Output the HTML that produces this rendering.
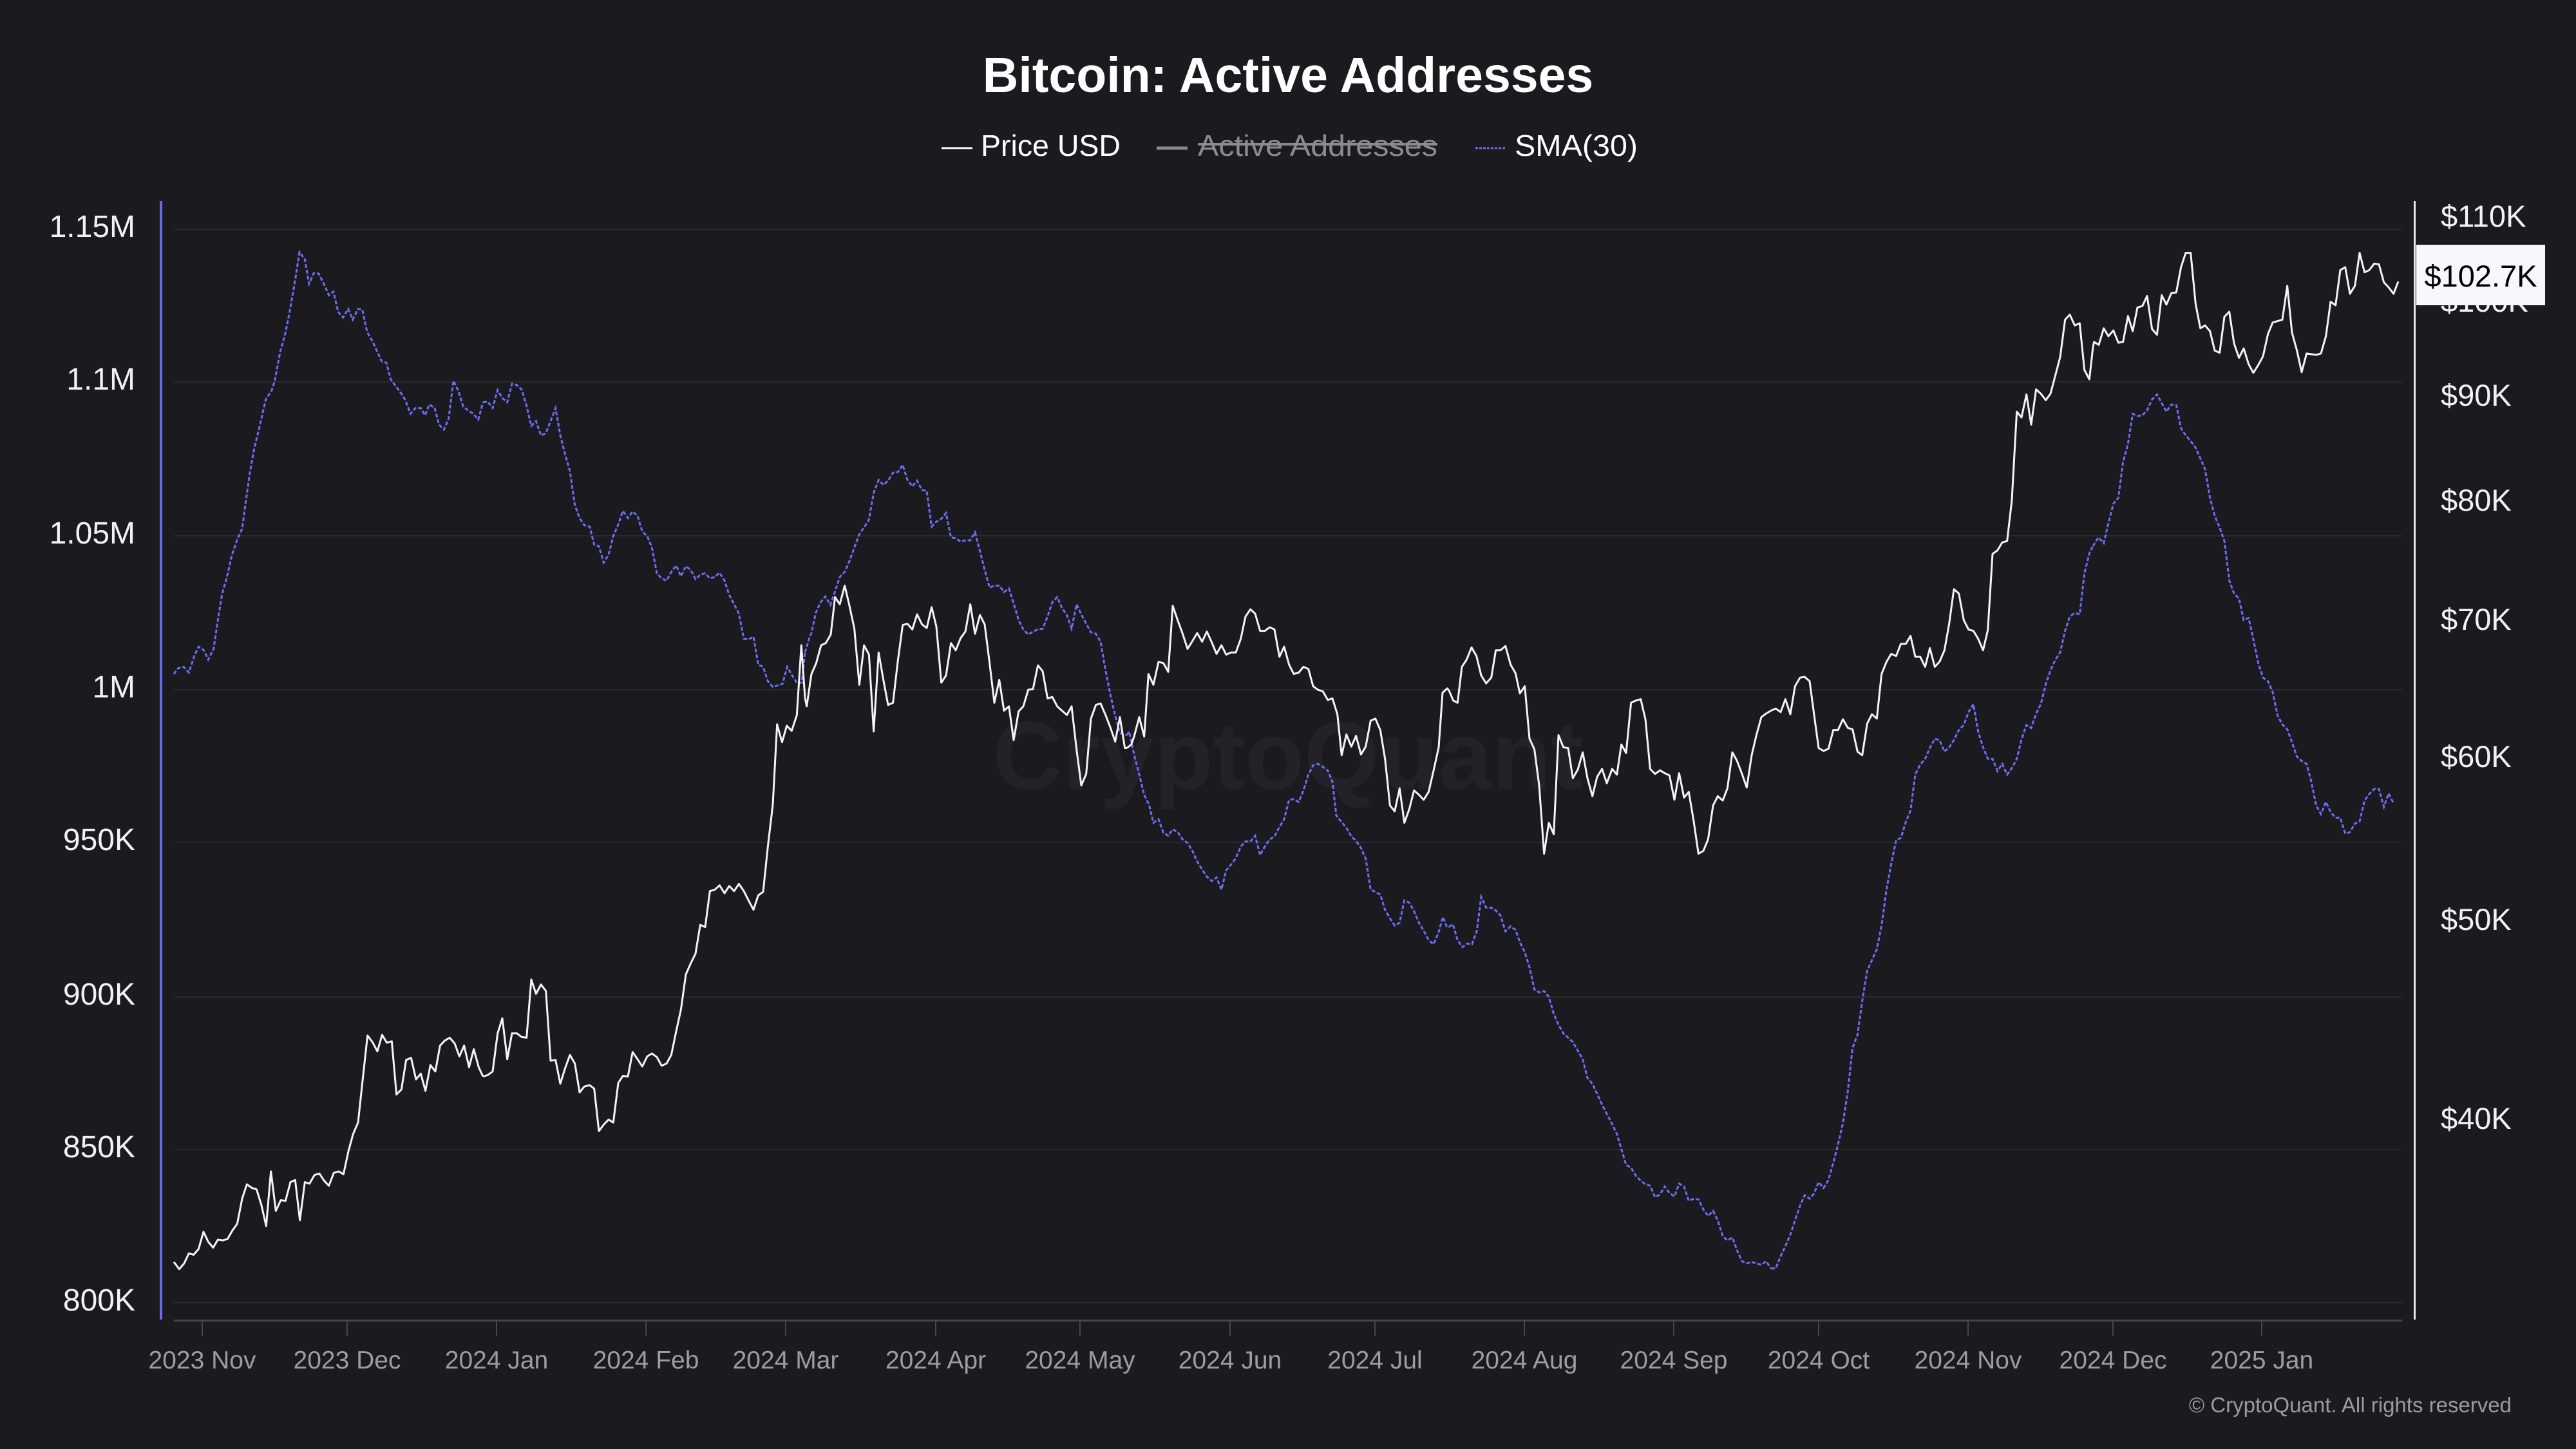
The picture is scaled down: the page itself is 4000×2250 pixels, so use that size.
<!DOCTYPE html>
<html>
<head>
<meta charset="utf-8">
<style>
html,body{margin:0;padding:0;background:#1a1a1f;}
svg{display:block;}
text{font-family:"Liberation Sans",sans-serif;}
.p{fill:none;stroke:#f4f4f8;stroke-width:3;vector-effect:non-scaling-stroke;stroke-linejoin:round;}
.s{fill:none;stroke:#6d6df2;stroke-width:3;stroke-dasharray:6 3;vector-effect:non-scaling-stroke;}
.yl{fill:#f2f2f5;font-size:48px;text-anchor:end;}
.yr{fill:#f2f2f5;font-size:47px;}
.xl{fill:#9c9ca8;font-size:39px;text-anchor:middle;}
.g{stroke:#29292f;stroke-width:2;}
.t{stroke:#46464e;stroke-width:2;}
</style>
</head>
<body>
<svg width="4000" height="2250" viewBox="0 0 4000 2250" xmlns="http://www.w3.org/2000/svg">
<rect x="0" y="0" width="4000" height="2250" fill="#1a1a1f"/>

<!-- Title -->
<text x="2000" y="143" text-anchor="middle" font-size="77" font-weight="bold" fill="#ffffff">Bitcoin: Active Addresses</text>

<!-- Legend -->
<line x1="1462" y1="230" x2="1510" y2="230" stroke="#ffffff" stroke-width="3"/>
<text x="1523" y="242" font-size="46" fill="#ffffff" textLength="217" lengthAdjust="spacingAndGlyphs">Price USD</text>
<line x1="1796" y1="230" x2="1844" y2="230" stroke="#8a8a94" stroke-width="5"/>
<text x="1860" y="242" font-size="46" fill="#8a8a94" textLength="372" lengthAdjust="spacingAndGlyphs">Active Addresses</text>
<rect x="1860" y="222" width="372" height="4" fill="#8a8a94"/>
<line x1="2291" y1="230" x2="2339" y2="230" stroke="#6d6df2" stroke-width="3" stroke-dasharray="4 2"/>
<text x="2352" y="242" font-size="46" fill="#ffffff" textLength="191" lengthAdjust="spacingAndGlyphs">SMA(30)</text>

<!-- Watermark -->
<text x="2000" y="1225" text-anchor="middle" font-size="150" font-weight="bold" fill="#222228">CryptoQuant</text>

<!-- Gridlines -->
<line class="g" x1="270" y1="356" x2="3730" y2="356"/>
<line class="g" x1="270" y1="593" x2="3730" y2="593"/>
<line class="g" x1="270" y1="832" x2="3730" y2="832"/>
<line class="g" x1="270" y1="1071" x2="3730" y2="1071"/>
<line class="g" x1="270" y1="1308" x2="3730" y2="1308"/>
<line class="g" x1="270" y1="1548" x2="3730" y2="1548"/>
<line class="g" x1="270" y1="1785" x2="3730" y2="1785"/>
<line class="g" x1="270" y1="2023" x2="3730" y2="2023"/>

<!-- Left axis -->
<rect x="248" y="312" width="4" height="1737" fill="#6a6af0"/>
<text class="yl" x="210" y="368">1.15M</text>
<text class="yl" x="210" y="605">1.1M</text>
<text class="yl" x="210" y="844">1.05M</text>
<text class="yl" x="210" y="1083">1M</text>
<text class="yl" x="210" y="1320">950K</text>
<text class="yl" x="210" y="1560">900K</text>
<text class="yl" x="210" y="1797">850K</text>
<text class="yl" x="210" y="2035">800K</text>

<!-- Right axis -->
<rect x="3748" y="312" width="3" height="1737" fill="#e8e8ee"/>
<text class="yr" x="3790" y="352">$110K</text>
<text class="yr" x="3790" y="484">$100K</text>
<text class="yr" x="3790" y="630">$90K</text>
<text class="yr" x="3790" y="793">$80K</text>
<text class="yr" x="3790" y="978">$70K</text>
<text class="yr" x="3790" y="1191">$60K</text>
<text class="yr" x="3790" y="1444">$50K</text>
<text class="yr" x="3790" y="1753">$40K</text>

<!-- Bottom axis -->
<rect x="270" y="2049" width="3460" height="3" fill="#46464e"/>
<line class="t" x1="314" y1="2051" x2="314" y2="2074"/>
<line class="t" x1="539" y1="2051" x2="539" y2="2074"/>
<line class="t" x1="771" y1="2051" x2="771" y2="2074"/>
<line class="t" x1="1003" y1="2051" x2="1003" y2="2074"/>
<line class="t" x1="1220" y1="2051" x2="1220" y2="2074"/>
<line class="t" x1="1453" y1="2051" x2="1453" y2="2074"/>
<line class="t" x1="1677" y1="2051" x2="1677" y2="2074"/>
<line class="t" x1="1910" y1="2051" x2="1910" y2="2074"/>
<line class="t" x1="2135" y1="2051" x2="2135" y2="2074"/>
<line class="t" x1="2367" y1="2051" x2="2367" y2="2074"/>
<line class="t" x1="2599" y1="2051" x2="2599" y2="2074"/>
<line class="t" x1="2824" y1="2051" x2="2824" y2="2074"/>
<line class="t" x1="3056" y1="2051" x2="3056" y2="2074"/>
<line class="t" x1="3281" y1="2051" x2="3281" y2="2074"/>
<line class="t" x1="3512" y1="2051" x2="3512" y2="2074"/>
<text class="xl" x="314" y="2125">2023 Nov</text>
<text class="xl" x="539" y="2125">2023 Dec</text>
<text class="xl" x="771" y="2125">2024 Jan</text>
<text class="xl" x="1003" y="2125">2024 Feb</text>
<text class="xl" x="1220" y="2125">2024 Mar</text>
<text class="xl" x="1453" y="2125">2024 Apr</text>
<text class="xl" x="1677" y="2125">2024 May</text>
<text class="xl" x="1910" y="2125">2024 Jun</text>
<text class="xl" x="2135" y="2125">2024 Jul</text>
<text class="xl" x="2367" y="2125">2024 Aug</text>
<text class="xl" x="2599" y="2125">2024 Sep</text>
<text class="xl" x="2824" y="2125">2024 Oct</text>
<text class="xl" x="3056" y="2125">2024 Nov</text>
<text class="xl" x="3281" y="2125">2024 Dec</text>
<text class="xl" x="3512" y="2125">2025 Jan</text>

<text x="3900" y="2193" text-anchor="end" font-size="33" fill="#9a9aa6">© CryptoQuant. All rights reserved</text>

<!-- Panel 1 -->
<g transform="translate(250,310) scale(0.333333,1.116071)">
<polyline class="s" points="60,660 80,652 105,650 130,658 155,635 175,622 200,627 220,640 245,625 265,585 285,548 305,528 330,495 355,473 378,458 395,420 415,378 435,345 460,315 488,278 515,266 530,252 555,212 580,185 600,155 625,112 645,73 670,83 690,117 712,102 735,103 760,118 782,133 803,128 825,156 848,164 872,152 893,167 918,152 938,153 960,184 985,197 1005,210 1028,225 1050,227 1070,250 1095,260 1120,270 1140,280 1162,298 1185,290 1210,290 1230,300 1250,285 1275,290 1295,313 1318,320 1340,305 1362,252 1385,266 1408,288 1430,293 1455,298 1478,306 1500,282"/>
<polyline class="p" points="60,1478 85,1488 108,1480 130,1466 152,1468 175,1460 198,1436 220,1450 243,1458 265,1447 288,1448 310,1446 333,1434 355,1425 378,1390 400,1370 423,1375 445,1377 467,1398 490,1428 512,1352 535,1407 558,1392 580,1393 603,1367 625,1364 647,1420 670,1367 692,1369 715,1357 738,1355 760,1365 782,1372 805,1354 828,1352 850,1356 873,1324 895,1300 918,1284 940,1223 962,1163 985,1172 1008,1185 1030,1162 1052,1173 1075,1171 1097,1245 1120,1238 1142,1197 1165,1194 1188,1224 1210,1216 1232,1240 1255,1204 1278,1213 1300,1177 1322,1170 1345,1166 1368,1174 1390,1192 1412,1177 1435,1207 1457,1182 1480,1207 1500,1220"/>
</g>

<!-- Panel 2 -->
<g transform="translate(750,310) scale(0.333333,1.116071)">
<polyline class="s" points="0,282 22,281 45,290 68,265 90,276 113,282 135,256 158,258 180,264 203,287 225,315 247,308 270,328 293,325 315,308 338,290 360,328 383,355 405,378 428,425 450,443 472,453 497,455 518,480 540,482 562,505 585,494 607,468 630,452 652,433 675,443 697,434 720,440 742,462 765,468 787,484 810,520 832,527 855,530 877,518 900,509 922,524 945,510 967,515 990,528 1012,522 1035,520 1057,527 1080,525 1102,519 1125,530 1147,550 1170,563 1192,576 1215,611 1237,612 1260,608 1282,647 1305,650 1327,670 1350,678 1372,676 1395,674 1417,650 1440,662 1462,672 1485,672 1500,630"/>
<polyline class="p" points="0,1220 22,1218 45,1213 68,1160 90,1139 113,1196 135,1160 158,1160 180,1165 203,1166 225,1085 247,1105 270,1092 293,1101 315,1198 338,1197 360,1230 383,1208 405,1190 428,1202 450,1242 472,1234 497,1232 518,1237 540,1296 562,1287 585,1280 607,1284 630,1229 652,1219 675,1220 697,1186 720,1196 742,1206 765,1192 787,1188 810,1193 832,1205 855,1202 877,1190 900,1157 922,1127 945,1078 967,1063 990,1049 1012,1009 1035,1012 1057,962 1080,960 1102,954 1125,965 1147,955 1170,962 1192,952 1215,962 1237,975 1260,988 1282,968 1305,963 1327,900 1350,842 1370,730 1393,755 1415,732 1438,739 1462,717 1483,620 1500,693"/>
</g>

<!-- Panel 3 -->
<g transform="translate(1250,310) scale(0.333333,1.116071)">
<polyline class="s" points="0,630 20,610 30,603 50,575 73,560 95,552 118,564 140,545 162,525 185,518 207,503 230,484 252,466 275,456 297,446 320,408 343,390 365,397 387,391 410,380 433,379 455,369 477,390 500,399 522,391 545,404 567,405 590,455 612,448 635,444 657,436 680,470 702,471 725,476 747,474 770,474 792,463 815,489 837,515 860,540 882,537 905,537 927,546 950,541 972,562 995,585 1017,598 1040,605 1062,601 1085,598 1107,597 1130,580 1152,560 1175,553 1197,568 1220,578 1242,597 1265,563 1287,577 1310,590 1332,602 1355,604 1377,615 1400,655 1422,688 1445,718 1467,742 1490,745 1500,745"/>
<polyline class="p" points="0,693 8,705 30,660 52,645 75,620 97,617 120,605 140,553 162,563 185,537 207,565 230,597 253,675 275,620 298,633 320,740 343,630 365,668 387,703 410,700 432,643 455,592 477,590 500,598 522,577 545,591 567,596 590,567 612,594 635,672 657,662 680,617 702,627 725,610 747,601 770,563 792,604 815,578 837,591 860,645 882,700 905,668 927,711 950,705 972,752 995,712 1017,705 1040,682 1062,681 1085,648 1107,656 1130,694 1152,692 1175,705 1197,711 1220,717 1242,705 1265,765 1287,815 1310,799 1332,722 1355,703 1377,701 1400,717 1422,734 1445,754 1467,720 1490,763 1500,763"/>
</g>

<!-- Panel 4 -->
<g transform="translate(1750,310) scale(0.333333,1.116071)">
<polyline class="s" points="0,745 10,740 33,772 57,800 80,828 103,842 123,867 147,862 170,881 192,885 213,876 237,880 258,890 282,895 305,906 327,921 350,932 372,942 395,948 417,943 440,960 462,933 485,925 507,916 530,900 552,893 575,893 597,885 620,912 642,900 665,890 687,886 710,873 732,862 755,835 777,834 800,838 822,822 845,800 867,787 890,785 912,789 935,794 957,810 975,857 1000,866 1022,874 1045,886 1067,892 1090,902 1112,917 1135,960 1157,963 1180,967 1202,988 1225,1000 1247,1010 1270,1006 1292,975 1315,978 1337,990 1360,1006 1382,1017 1405,1030 1427,1036 1450,1021 1472,998 1490,1012 1500,1012"/>
<polyline class="p" points="0,763 20,758 33,747 57,720 80,747 100,660 123,675 147,643 170,645 192,657 213,565 237,586 258,603 282,625 305,614 327,603 350,615 372,601 395,616 417,632 440,620 462,633 485,630 507,630 530,611 552,580 575,570 597,576 620,600 642,600 665,595 687,598 710,636 732,622 755,647 777,660 800,658 822,650 845,653 867,677 890,682 912,684 935,696 957,694 980,716 1000,773 1022,744 1045,761 1067,746 1090,772 1112,761 1135,725 1157,722 1180,738 1202,778 1225,843 1247,851 1270,819 1292,867 1315,848 1337,822 1360,828 1382,835 1405,824 1427,796 1452,762 1470,686 1492,680 1500,683"/>
</g>

<!-- Panel 5 -->
<g transform="translate(2250,310) scale(0.333333,1.116071)">
<polyline class="s" points="0,1012 18,1008 40,1030 62,1040 85,1035 107,1036 130,1017 150,970 173,985 197,985 218,989 240,996 263,1018 287,1011 310,1016 330,1033 353,1047 375,1068 398,1099 420,1103 443,1101 465,1109 488,1133 510,1148 533,1160 555,1166 577,1172 600,1184 623,1196 645,1222 668,1230 690,1244 713,1259 735,1272 760,1286 782,1300 803,1321 825,1343 848,1347 870,1358 893,1365 915,1370 937,1372 960,1388 983,1384 1005,1373 1027,1382 1050,1387 1072,1369 1095,1373 1117,1393 1140,1390 1162,1391 1185,1405 1207,1414 1230,1407 1252,1420 1275,1442 1297,1448 1320,1444 1342,1462 1365,1477 1387,1480 1410,1478 1432,1480 1455,1482 1477,1477 1500,1487"/>
<polyline class="p" points="0,683 20,697 40,700 60,650 82,640 105,623 128,635 150,662 173,673 197,665 218,627 240,627 263,621 287,647 310,659 330,687 353,677 375,750 398,765 420,815 443,910 465,867 488,883 510,745 533,762 555,763 577,805 600,793 623,769 645,805 668,830 690,803 713,792 735,812 760,792 782,800 803,758 825,770 848,700 870,697 893,695 915,723 937,792 960,799 983,794 1005,798 1027,801 1050,835 1072,798 1095,832 1117,824 1140,865 1162,910 1185,906 1207,890 1230,843 1252,830 1275,836 1297,819 1320,769 1342,781 1365,799 1387,818 1410,773 1432,745 1455,720 1477,715 1500,711"/>
</g>

<!-- Panel 6 -->
<g transform="translate(2750,310) scale(0.333333,1.116071)">
<polyline class="s" points="0,1487 22,1487 45,1470 67,1456 90,1440 112,1420 135,1400 157,1385 180,1390 200,1383 222,1367 245,1375 268,1364 290,1340 312,1315 335,1285 358,1240 380,1180 403,1162 425,1115 448,1073 470,1058 493,1043 515,1010 538,960 560,924 583,891 605,888 628,866 650,850 672,800 695,786 718,778 740,763 763,750 785,752 808,768 830,762 852,752 875,738 898,731 920,713 943,702 965,740 988,762 1010,778 1032,778 1055,795 1077,785 1100,800 1122,791 1145,778 1167,751 1190,731 1212,735 1235,715 1257,702 1280,674 1302,655 1325,640 1347,630 1370,600 1392,580 1415,575 1438,577 1460,520 1483,492 1500,482"/>
<polyline class="p" points="0,711 22,708 45,713 67,695 90,716 112,677 135,665 157,664 180,670 200,715 222,763 245,767 268,764 290,738 312,738 335,723 358,735 380,737 403,768 425,773 448,729 470,716 493,722 515,660 538,643 560,632 583,635 605,618 628,618 650,607 672,636 695,636 718,650 740,624 763,650 785,643 808,627 830,590 852,542 875,548 898,585 920,598 943,600 965,611 988,627 1010,599 1032,493 1055,488 1077,477 1100,475 1122,418 1145,295 1167,303 1190,271 1212,313 1235,264 1257,270 1280,279 1302,270 1325,244 1347,219 1370,167 1392,160 1415,175 1438,172 1460,237 1483,250 1500,205"/>
</g>

<!-- Panel 7 -->
<g transform="translate(3250,310) scale(0.333333,1.116071)">
<polyline class="s" points="0,482 25,470 50,478 72,450 95,423 118,415 140,365 163,340 185,298 207,301 230,300 252,293 275,278 298,271 320,283 342,295 365,285 388,286 410,318 432,328 455,336 478,345 500,360 522,375 545,415 567,440 590,456 612,475 635,530 657,548 680,555 702,585 725,582 747,612 770,645 792,665 815,670 837,685 860,718 882,730 905,737 927,755 950,775 972,781 995,785 1017,810 1040,843 1062,855 1085,838 1107,852 1130,860 1152,860 1175,882 1197,880 1220,868 1242,865 1265,836 1287,827 1310,820 1332,820 1355,845 1377,826 1400,840"/>
<polyline class="p" points="0,205 5,198 27,202 50,179 72,190 95,182 118,199 140,198 163,162 185,183 207,150 230,148 252,134 275,180 298,188 320,133 342,146 365,130 388,129 410,94 432,74 455,74 478,145 500,179 522,175 545,183 567,210 590,213 612,163 635,156 657,200 680,220 702,207 725,229 747,241 770,230 792,218 815,187 837,171 860,169 882,167 905,120 927,185 950,210 972,240 995,214 1017,215 1040,216 1062,214 1085,190 1107,142 1130,147 1152,98 1175,94 1197,131 1220,120 1242,74 1265,101 1287,98 1310,89 1332,90 1355,115 1377,122 1400,131 1422,114"/>
</g>

<!-- Last price badge -->
<rect x="3752" y="380" width="200" height="94" fill="#f8f8fc"/>
<text x="3852" y="445" text-anchor="middle" font-size="47" fill="#000000">$102.7K</text>
</svg>
</body>
</html>
